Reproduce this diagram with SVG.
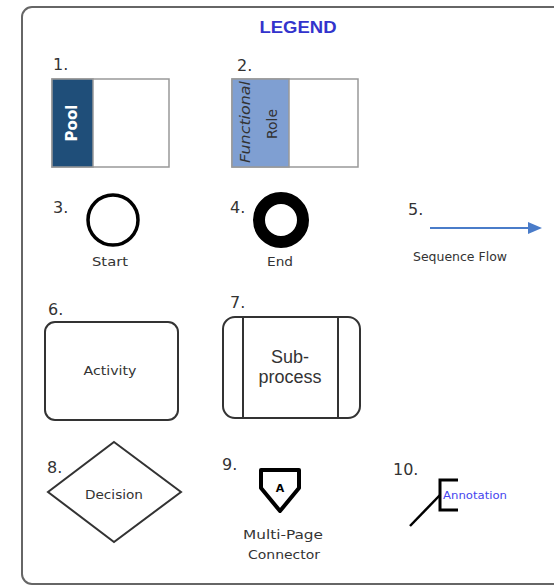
<svg xmlns="http://www.w3.org/2000/svg" width="554" height="587" viewBox="0 0 554 587">
<style>
.num{font-family:"DejaVu Sans","Liberation Sans",sans-serif;font-size:16px;fill:#333}
.lbl{font-family:"DejaVu Sans","Liberation Sans",sans-serif;font-size:13px;fill:#333;text-anchor:middle}
.ar{font-family:"Liberation Sans",Arial,sans-serif;font-size:18px;fill:#333;text-anchor:middle}
.shape{fill:#fff;stroke:#333;stroke-width:2}
.box{fill:#fff;stroke:#999;stroke-width:1.5}
</style>
<defs>
<marker id="arr" markerWidth="14" markerHeight="12" refX="0" refY="6" orient="auto" markerUnits="userSpaceOnUse">
<path d="M0,0 L14,6 L0,12 Z" fill="#4a7cc9"/>
</marker>
</defs>
<rect x="22" y="7" width="570" height="577" rx="10" fill="#fff" stroke="#666" stroke-width="2"/>
<text x="298" y="33" text-anchor="middle" font-family="'Liberation Sans',Arial,sans-serif" font-weight="bold" font-size="17" fill="#3333cc" textLength="77" lengthAdjust="spacingAndGlyphs">LEGEND</text>

<g id="pool">
<text class="num" x="53" y="70">1.</text>
<rect class="box" x="52" y="79" width="117" height="88"/>
<rect x="52" y="79" width="41" height="88" fill="#1f4e79" stroke="#999" stroke-width="1.5"/>
<text transform="translate(77,123) rotate(-90)" text-anchor="middle" font-family="'DejaVu Sans',sans-serif" font-weight="bold" font-size="15" fill="#fff">Pool</text>
</g>

<g id="role">
<text class="num" x="237" y="71">2.</text>
<rect class="box" x="232" y="79" width="126" height="88"/>
<rect x="232" y="79" width="57" height="88" fill="#7f9fd2" stroke="#999" stroke-width="1.5"/>
<text transform="translate(250,122) rotate(-90)" text-anchor="middle" font-family="'DejaVu Sans',sans-serif" font-style="italic" font-size="14" fill="#333" textLength="82" lengthAdjust="spacingAndGlyphs">Functional</text>
<text transform="translate(277,124) rotate(-90)" text-anchor="middle" font-family="'DejaVu Sans',sans-serif" font-size="14" fill="#333">Role</text>
</g>

<g id="start">
<text class="num" x="53" y="213">3.</text>
<circle cx="113" cy="220" r="25" fill="#fff" stroke="#000" stroke-width="3.5"/>
<text class="lbl" x="110" y="266" textLength="36" lengthAdjust="spacingAndGlyphs">Start</text>
</g>

<g id="end">
<text class="num" x="230" y="213">4.</text>
<circle cx="281" cy="220" r="22" fill="#fff" stroke="#000" stroke-width="12"/>
<text class="lbl" x="280" y="266" textLength="26" lengthAdjust="spacingAndGlyphs">End</text>
</g>

<g id="flow">
<text class="num" x="408" y="215">5.</text>
<text class="lbl" x="460" y="261" font-size="11" textLength="94" lengthAdjust="spacingAndGlyphs">Sequence Flow</text>
</g>

<g id="activity">
<text class="num" x="48" y="315">6.</text>
<rect class="shape" x="45" y="322" width="133" height="98" rx="10"/>
<text class="lbl" x="110" y="375" textLength="53" lengthAdjust="spacingAndGlyphs">Activity</text>
</g>

<g id="subprocess">
<text class="num" x="230" y="308">7.</text>
<rect class="shape" x="223" y="317" width="137" height="101" rx="12"/>
<line x1="243" y1="317" x2="243" y2="418" stroke="#333" stroke-width="2"/>
<line x1="338" y1="317" x2="338" y2="418" stroke="#333" stroke-width="2"/>
<text class="ar" x="290" y="363">Sub-</text>
<text class="ar" x="290" y="383">process</text>
</g>

<g id="decision">
<text class="num" x="47" y="473">8.</text>
<polygon class="shape" points="114,442 181,492 114,542 48,492"/>
<text class="lbl" x="114" y="499" textLength="58" lengthAdjust="spacingAndGlyphs">Decision</text>
</g>

<g id="connector">
<text class="num" x="222" y="470">9.</text>
<path d="M261,470 L299,470 L299,488 L280,511 L261,488 Z" fill="#fff" stroke="#000" stroke-width="4" stroke-linejoin="round"/>
<text x="280" y="492" text-anchor="middle" font-family="'DejaVu Sans',sans-serif" font-weight="bold" font-size="11" fill="#000">A</text>
<text class="lbl" x="283" y="539" textLength="80" lengthAdjust="spacingAndGlyphs">Multi-Page</text>
<text class="lbl" x="284" y="559" textLength="72" lengthAdjust="spacingAndGlyphs">Connector</text>
</g>

<g id="annotation">
<text class="num" x="393" y="475">10.</text>
<path d="M458,480 L440,480 L440,510 L458,510" fill="none" stroke="#000" stroke-width="3"/>
<line x1="410" y1="526" x2="440" y2="495" stroke="#000" stroke-width="2.5"/>
<text x="443" y="499" font-family="'DejaVu Sans',sans-serif" font-size="11" fill="#4444ee" textLength="64" lengthAdjust="spacingAndGlyphs">Annotation</text>
</g>

<g id="connectors">
<line x1="430" y1="228" x2="528" y2="228" stroke="#4a7cc9" stroke-width="2" marker-end="url(#arr)"/>
</g>
</svg>
